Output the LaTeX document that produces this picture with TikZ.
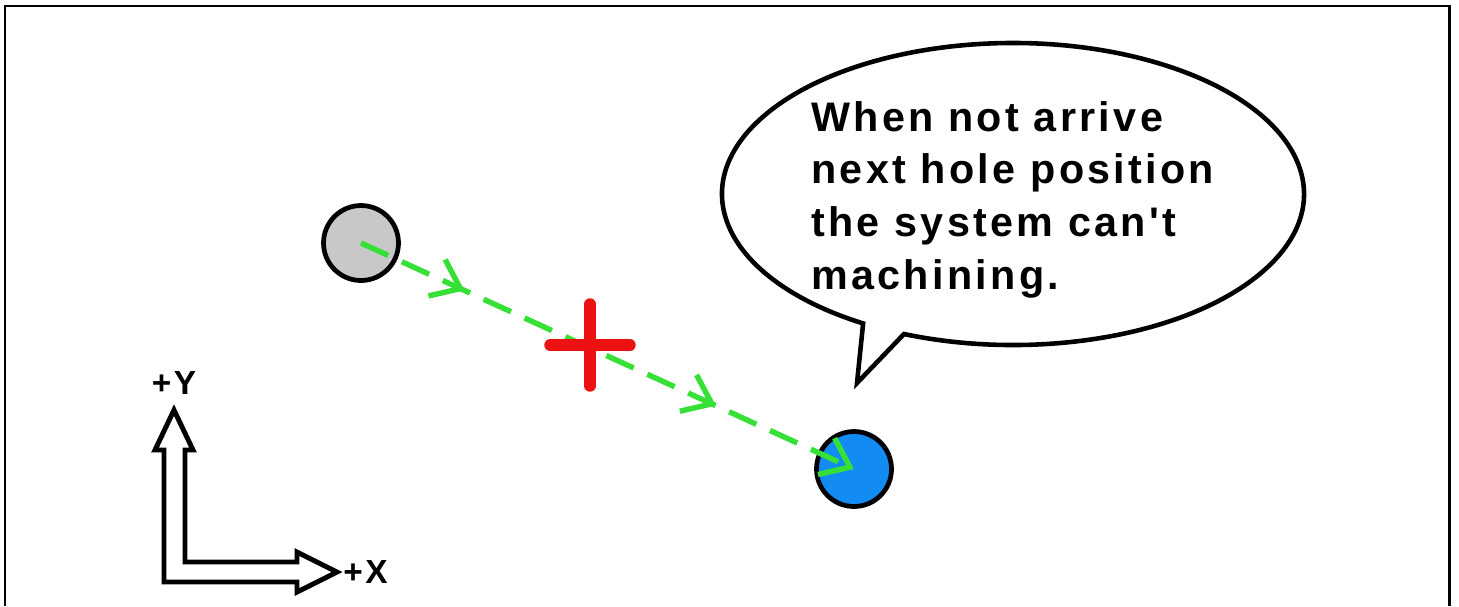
\documentclass[tikz,border=0pt]{standalone}
\usepackage{fontspec}
\newfontfamily\labelfont{Liberation Sans}[LetterSpace=8]
\usetikzlibrary{arrows.meta,positioning,calc,decorations.markings}
\definecolor{HG}{HTML}{C8C8C8}
\definecolor{HB}{HTML}{128CF2}
\definecolor{PG}{HTML}{36E036}
\definecolor{XR}{HTML}{EE1111}

\begin{document}
\begin{tikzpicture}[x=0.02cm, y=-0.02cm,
    framebox/.style={line width=1.7pt},
    hole/.style={circle, draw=black, line width=2.7pt, minimum size=1.5cm, inner sep=0pt},
    travel/.style={draw=PG, line width=3.1pt, dash pattern=on 0.6cm off 0.3cm,
      -{Straight Barb[length=0.52cm, width=0.8cm]},
      postaction={decorate},
      decoration={markings,
        mark=at position 0.21 with {\arrow{Straight Barb[length=0.52cm, width=0.8cm]}},
        mark=at position 0.72 with {\arrow{Straight Barb[length=0.52cm, width=0.8cm]}}}},
    axisarrow/.style={draw=black, line width=2.8pt, line join=miter},
    axislabel/.style={inner sep=0pt, font=\labelfont\bfseries\fontsize{19}{22}\selectfont},
    bubble/.style={draw=black, line width=2.6pt, line join=miter},
    msgtext/.style={inner sep=0pt, align=left, font=\labelfont\bfseries\fontsize{23.5}{30}\selectfont}]
  \useasboundingbox (0,0) rectangle (1459,606);
  \draw[framebox] (5,606) -- (5,6) -- (1449,6) -- (1449,606);

  % holes and the move between them
  \node[hole, fill=HG] (prev) at (361,243) {};
  \node[hole, fill=HB] (next) at (854,469) {};
  \draw[travel] (prev.center) -- (next.center);

  \coordinate (stop) at (590,345);
  \draw[XR, line width=6.5pt, line cap=round]
    ($(stop)+(-40,0)$) -- ($(stop)+(40,0)$)
    ($(stop)+(0,-41)$) -- ($(stop)+(0,41)$);

  % speech bubble
  \draw[bubble] (1013,194) ++(121:291 and 151)
    arc[start angle=121, end angle=472, x radius=291, y radius=151]
    -- (857,383) -- cycle;
  \node[msgtext, anchor=north west] (msg) at (811,101)
    {When not arrive\\next hole position\\the system can't\\machining.};

  % axes
  \coordinate (ytip) at (174,410);
  \coordinate (xtip) at (337,572);
  \draw[axisarrow] (164,450) -- (155,450) -- (ytip) -- (193,450) -- (185,450)
    -- (185,562) -- (297,562) -- (297,552) -- (xtip) -- (297,592) -- (297,582)
    -- (164,582) -- cycle;
  \node[axislabel, above=0.3cm of ytip] (ylab) {+Y};
  \node[axislabel, right=0.12cm of xtip] (xlab) {+X};
\end{tikzpicture}
\end{document}
